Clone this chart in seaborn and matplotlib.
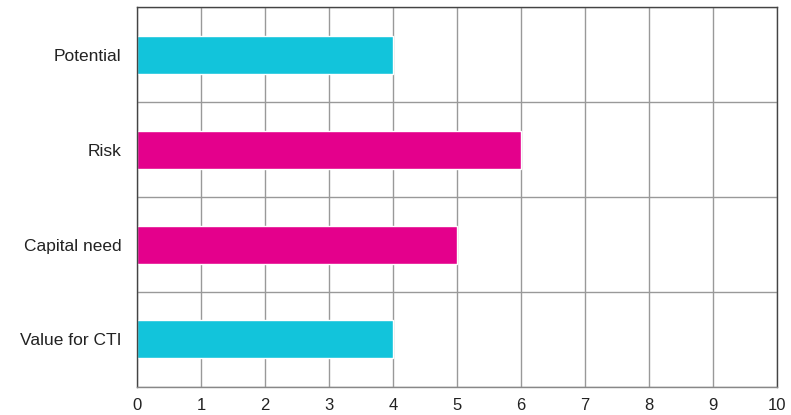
import matplotlib
matplotlib.use("Agg")
import matplotlib.pyplot as plt
import numpy as np
import pandas as pd
import seaborn as sns

# data
categories = ["Potential", "Risk", "Capital need", "Value for CTI"]
values = [4, 6, 5, 4]
groups = ["good", "bad", "bad", "good"]
palette = {"good": "#12C4DB", "bad": "#E4008C"}

sns.set_style("white")
plt.rcParams["font.family"] = ["Liberation Sans", "DejaVu Sans"]

df = pd.DataFrame({"category": categories, "value": values, "group": groups})

fig = plt.figure(figsize=(7.91, 4.15), dpi=100)
ax = fig.add_axes([0.1732, 0.0675, 0.8091, 0.9155])

sns.barplot(
    data=df, x="value", y="category", hue="group", palette=palette,
    order=categories, dodge=False, width=0.4, legend=False, ax=ax,
    saturation=1,
)

ax.set_xlim(0, 10)
ax.set_ylim(len(categories) - 0.5, -0.5)
ax.set_xticks(np.arange(0, 11, 1))
ax.set_yticks(np.arange(len(categories)), categories)
ax.set_yticks(np.arange(-0.5, len(categories), 1), minor=True)
ax.grid(True, axis="x", color="#999999", linewidth=1)
ax.grid(True, axis="y", which="minor", color="#999999", linewidth=1)
ax.set_axisbelow(True)
ax.tick_params(axis="both", which="both", length=0)
ax.tick_params(axis="x", labelsize=12, colors="#222222", pad=8)
ax.tick_params(axis="y", labelsize=12.5, colors="#222222", pad=11)
ax.set_xlabel("")
ax.set_ylabel("")
for side, sp in ax.spines.items():
    sp.set_visible(True)
    sp.set_color("#444444")
    sp.set_linewidth(1)
ax.spines["bottom"].set_color("#888888")

fig.savefig("out.png", dpi=100)
